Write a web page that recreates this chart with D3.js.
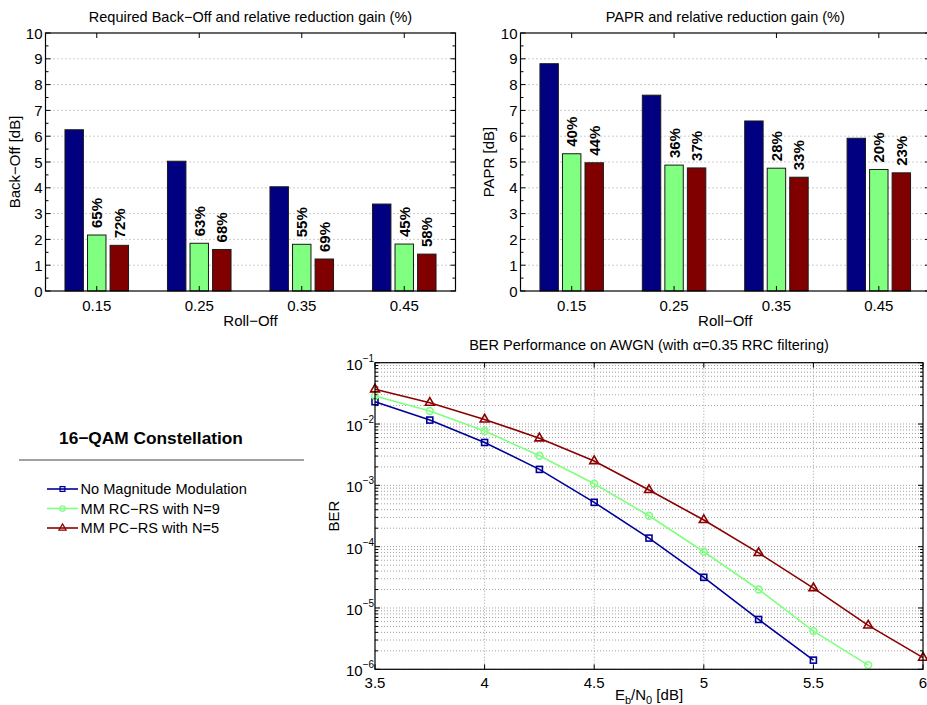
<!DOCTYPE html>
<html>
<head>
<meta charset="utf-8">
<script src="https://cdn.jsdelivr.net/npm/d3@7"></script>
<style>
  body { margin: 0; background: #fff; }
  svg { font-family: "Liberation Sans", Arial, Helvetica, sans-serif; }
</style>
</head>
<body>
<div id="chart"></div>
<script>
// ---- data ----
var rollOff = ["0.15", "0.25", "0.35", "0.45"];
var seriesNames = ["No Magnitude Modulation", "MM RC\u2212RS with N=9", "MM PC\u2212RS with N=5"];

var backOffNoMM = [6.25, 5.03, 4.04, 3.37];
var backOffRC = [2.17, 1.85, 1.81, 1.82];
var backOffPC = [1.77, 1.61, 1.24, 1.43];
var backOffGainRC = ["65%", "63%", "55%", "45%"];
var backOffGainPC = ["72%", "68%", "69%", "58%"];

var paprNoMM = [8.81, 7.59, 6.59, 5.92];
var paprRC = [5.32, 4.88, 4.76, 4.71];
var paprPC = [4.97, 4.77, 4.41, 4.58];
var paprGainRC = ["40%", "36%", "28%", "20%"];
var paprGainPC = ["44%", "37%", "33%", "23%"];

var ebn0 = [3.5, 3.75, 4, 4.25, 4.5, 4.75, 5, 5.25, 5.5, 5.75, 6];
var berNoMM = [2.31e-2, 1.16e-2, 5.0e-3, 1.82e-3, 5.28e-4, 1.38e-4, 3.16e-5, 6.5e-6, 1.41e-6];
var berRC = [2.87e-2, 1.63e-2, 7.7e-3, 3.04e-3, 1.06e-3, 3.19e-4, 8.26e-5, 2.0e-5, 4.2e-6, 1.17e-6];
var berPC = [3.68e-2, 2.23e-2, 1.19e-2, 5.85e-3, 2.49e-3, 8.4e-4, 2.72e-4, 7.9e-5, 2.11e-5, 5.2e-6, 1.55e-6];
var berXTicks = [3.5, 4, 4.5, 5, 5.5, 6];
var berYTicks = [-1, -2, -3, -4, -5, -6];

var barColors = ["#000080", "#80ff80", "#800000"];
var lineColors = ["#000099", "#80ff80", "#8b0000"];

var svg = d3.select("#chart").append("svg")
  .attr("width", 927)
  .attr("height", 705);

// ---------------- bar charts ----------------
function drawBars(opts) {
  var m = opts.box;
  var x = d3.scaleLinear().domain([0.5, 4.5]).range([m.left, m.right]);
  var y = d3.scaleLinear().domain([0, 10]).range([m.bottom, m.top]);
  var g = svg.append("g");

  // dotted grid
  g.selectAll("line.grid").data(d3.range(1, 10)).enter().append("line")
    .attr("x1", m.left).attr("x2", m.right)
    .attr("y1", function(d) { return y(d); }).attr("y2", function(d) { return y(d); })
    .attr("stroke", "#9a9a9a").attr("stroke-width", 1).attr("stroke-dasharray", "1,3");

  var series = [opts.a, opts.b, opts.c];
  var offs = [-0.22, 0, 0.22];
  var bw = x(0.18) - x(0);
  series.forEach(function(vals, s) {
    g.selectAll("rect.s" + s).data(vals).enter().append("rect")
      .attr("x", function(d, i) { return x(i + 1 + offs[s]) - bw / 2; })
      .attr("y", function(d) { return y(d); })
      .attr("width", bw)
      .attr("height", function(d) { return y(0) - y(d); })
      .attr("fill", barColors[s])
      .attr("stroke", "#1a1a1a").attr("stroke-width", 1);
  });

  // gain labels (rotated)
  [[opts.b, opts.gb, 1], [opts.c, opts.gc, 2]].forEach(function(p) {
    g.selectAll(null).data(p[0]).enter().append("text")
      .attr("transform", function(d, i) {
        return "translate(" + (x(i + 1 + offs[p[2]]) + 5.5) + "," + (y(d) - 7) + ") rotate(-90)";
      })
      .attr("font-size", 15).attr("font-weight", "bold")
      .text(function(d, i) { return p[1][i]; });
  });

  // box
  g.append("rect").attr("x", m.left).attr("y", m.top)
    .attr("width", m.right - m.left).attr("height", m.bottom - m.top)
    .attr("fill", "none").attr("stroke", "#000").attr("stroke-width", 1.2);

  // y ticks
  d3.range(0, 10.01, 0.5).forEach(function(v) {
    var len = (v % 1 === 0) ? 5 : 3;
    g.append("line").attr("x1", m.left).attr("x2", m.left + len)
      .attr("y1", y(v)).attr("y2", y(v)).attr("stroke", "#000");
    g.append("line").attr("x1", m.right).attr("x2", m.right - len)
      .attr("y1", y(v)).attr("y2", y(v)).attr("stroke", "#000");
  });
  g.selectAll("text.yt").data(d3.range(0, 11)).enter().append("text")
    .attr("x", m.left - 3).attr("y", function(d) { return y(d) + 5.5; })
    .attr("text-anchor", "end").attr("font-size", 15)
    .text(function(d) { return d; });

  // x ticks
  rollOff.forEach(function(r, i) {
    g.append("line").attr("x1", x(i + 1)).attr("x2", x(i + 1))
      .attr("y1", m.bottom).attr("y2", m.bottom - 5).attr("stroke", "#000");
    g.append("line").attr("x1", x(i + 1)).attr("x2", x(i + 1))
      .attr("y1", m.top).attr("y2", m.top + 5).attr("stroke", "#000");
    g.append("text").attr("x", x(i + 1)).attr("y", m.bottom + 20)
      .attr("text-anchor", "middle").attr("font-size", 15).text(r);
  });

  g.append("text").attr("x", (m.left + m.right) / 2).attr("y", m.top - 11)
    .attr("text-anchor", "middle").attr("font-size", 14.5).text(opts.title);
  g.append("text").attr("x", (m.left + m.right) / 2).attr("y", m.bottom + 35)
    .attr("text-anchor", "middle").attr("font-size", 15).text("Roll\u2212Off");
  g.append("text")
    .attr("transform", "translate(" + opts.ylabX + "," + ((m.top + m.bottom) / 2) + ") rotate(-90)")
    .attr("text-anchor", "middle").attr("font-size", 15).text(opts.ylab);
}

drawBars({
  box: {left: 45.5, right: 455.5, top: 33, bottom: 291},
  a: backOffNoMM, b: backOffRC, c: backOffPC,
  gb: backOffGainRC, gc: backOffGainPC,
  title: "Required Back\u2212Off and relative reduction gain (%)",
  ylab: "Back\u2212Off [dB]", ylabX: 20
});

drawBars({
  box: {left: 520.5, right: 930, top: 33, bottom: 291},
  a: paprNoMM, b: paprRC, c: paprPC,
  gb: paprGainRC, gc: paprGainPC,
  title: "PAPR and relative reduction gain (%)",
  ylab: "PAPR [dB]", ylabX: 494
});

// ---------------- BER chart ----------------
var bb = {left: 375, right: 923, top: 362.7, bottom: 669.3};
var bx = d3.scaleLinear().domain([3.5, 6]).range([bb.left, bb.right]);
var by = d3.scaleLog().domain([1e-6, 1e-1]).range([bb.bottom, bb.top]);
var gb = svg.append("g");

// horizontal grid (major + minor)
var minorVals = [];
for (var e = -6; e < -1; e++) {
  for (var k = 1; k < 10; k++) minorVals.push(k * Math.pow(10, e));
}
gb.selectAll("line.hg").data(minorVals).enter().append("line")
  .attr("x1", bb.left).attr("x2", bb.right)
  .attr("y1", function(d) { return by(d); }).attr("y2", function(d) { return by(d); })
  .attr("stroke", "#a0a0a0").attr("stroke-width", 1).attr("stroke-dasharray", "1,2");
gb.selectAll("line.vg").data(berXTicks.slice(1, -1)).enter().append("line")
  .attr("x1", function(d) { return bx(d); }).attr("x2", function(d) { return bx(d); })
  .attr("y1", bb.top).attr("y2", bb.bottom)
  .attr("stroke", "#a0a0a0").attr("stroke-width", 1).attr("stroke-dasharray", "1,2");

// minor ticks on both sides
minorVals.concat([1e-1]).forEach(function(v) {
  var major = Math.abs(Math.log10(v) - Math.round(Math.log10(v))) < 1e-9;
  var len = major ? 5 : 3;
  gb.append("line").attr("x1", bb.left).attr("x2", bb.left + len)
    .attr("y1", by(v)).attr("y2", by(v)).attr("stroke", "#000");
  gb.append("line").attr("x1", bb.right).attr("x2", bb.right - len)
    .attr("y1", by(v)).attr("y2", by(v)).attr("stroke", "#000");
});
berXTicks.forEach(function(v) {
  gb.append("line").attr("x1", bx(v)).attr("x2", bx(v))
    .attr("y1", bb.bottom).attr("y2", bb.bottom - 5).attr("stroke", "#000");
  gb.append("line").attr("x1", bx(v)).attr("x2", bx(v))
    .attr("y1", bb.top).attr("y2", bb.top + 5).attr("stroke", "#000");
});

var berSeries = [berNoMM, berRC, berPC];
var line = d3.line()
  .x(function(d) { return bx(d[0]); })
  .y(function(d) { return by(d[1]); });

berSeries.forEach(function(vals, s) {
  var pts = vals.map(function(v, i) { return [ebn0[i], v]; });
  gb.append("path").datum(pts)
    .attr("d", line).attr("fill", "none")
    .attr("stroke", lineColors[s]).attr("stroke-width", 1.6);
  drawMarkers(gb, pts, s);
});

function markerShape(sel, s) {
  if (s === 0) {
    sel.append("rect").attr("x", -3).attr("y", -3).attr("width", 6).attr("height", 6)
      .attr("fill", "none").attr("stroke", lineColors[s]).attr("stroke-width", 1.6);
  } else if (s === 1) {
    sel.append("circle").attr("r", 3.4)
      .attr("fill", "none").attr("stroke", lineColors[s]).attr("stroke-width", 1.6);
  } else {
    sel.append("path").attr("d", d3.symbol().type(d3.symbolTriangle).size(34))
      .attr("fill", "none").attr("stroke", lineColors[s]).attr("stroke-width", 1.6);
  }
}

function drawMarkers(g, pts, s) {
  var m = g.selectAll(null).data(pts).enter().append("g")
    .attr("transform", function(d) { return "translate(" + bx(d[0]) + "," + by(d[1]) + ")"; });
  markerShape(m, s);
}

gb.append("rect").attr("x", bb.left).attr("y", bb.top)
  .attr("width", bb.right - bb.left).attr("height", bb.bottom - bb.top)
  .attr("fill", "none").attr("stroke", "#000").attr("stroke-width", 1.2);

// tick labels
gb.selectAll("text.xt").data(berXTicks).enter().append("text")
  .attr("x", function(d) { return bx(d); }).attr("y", bb.bottom + 19)
  .attr("text-anchor", "middle").attr("font-size", 15)
  .text(function(d) { return d; });

var yt = gb.selectAll("text.yt").data(berYTicks).enter().append("text")
  .attr("x", bb.left - 29).attr("y", function(d) { return by(Math.pow(10, d)) + 7; })
  .attr("text-anchor", "start").attr("font-size", 15);
yt.append("tspan").text("10");
yt.append("tspan").attr("dy", -8).attr("font-size", 10)
  .text(function(d) { return "\u2212" + Math.abs(d); });

gb.append("text").attr("x", (bb.left + bb.right) / 2).attr("y", bb.top - 13)
  .attr("text-anchor", "middle").attr("font-size", 14.5)
  .text("BER Performance on AWGN (with \u03b1=0.35 RRC filtering)");

gb.append("text")
  .attr("transform", "translate(" + 339 + "," + ((bb.top + bb.bottom) / 2) + ") rotate(-90)")
  .attr("text-anchor", "middle").attr("font-size", 15).text("BER");

var xl = gb.append("text").attr("x", (bb.left + bb.right) / 2).attr("y", bb.bottom + 31)
  .attr("text-anchor", "middle").attr("font-size", 15);
xl.append("tspan").text("E");
xl.append("tspan").attr("dy", 4).attr("font-size", 11).text("b");
xl.append("tspan").attr("dy", -4).text("/N");
xl.append("tspan").attr("dy", 4).attr("font-size", 11).text("0");
xl.append("tspan").attr("dy", -4).text(" [dB]");

// ---------------- legend ----------------
var lg = svg.append("g");
lg.append("text").attr("x", 151).attr("y", 444)
  .attr("text-anchor", "middle").attr("font-size", 17.3).attr("font-weight", "bold")
  .text("16\u2212QAM Constellation");
lg.append("line").attr("x1", 19).attr("x2", 304).attr("y1", 460).attr("y2", 460)
  .attr("stroke", "#444").attr("stroke-width", 1);

var legendY = [489, 508.5, 528];
seriesNames.forEach(function(name, s) {
  var row = lg.append("g");
  row.append("line").attr("x1", 47).attr("x2", 78)
    .attr("y1", legendY[s]).attr("y2", legendY[s])
    .attr("stroke", lineColors[s]).attr("stroke-width", 1.6);
  var mk = row.append("g").attr("transform", "translate(62.5," + legendY[s] + ") scale(0.8)");
  markerShape(mk, s);
  row.append("text").attr("x", 80.5).attr("y", legendY[s] + 5)
    .attr("font-size", 14.6).text(name);
});
</script>
</body>
</html>
